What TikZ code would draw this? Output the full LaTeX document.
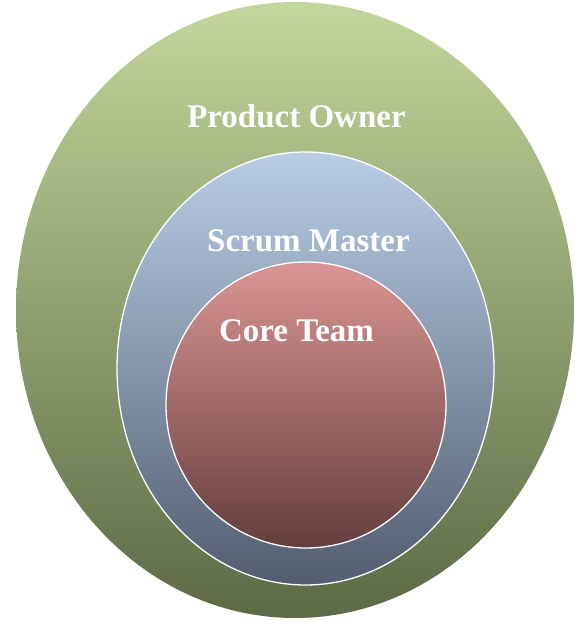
\documentclass[tikz,border=0pt]{standalone}
\usepackage{fontspec}
\setmainfont{Liberation Serif}
\usepackage{xcolor}
\usepackage{tikz}
\usetikzlibrary{positioning}

\definecolor{ownertop}{HTML}{C3D69B}
\definecolor{ownermid}{HTML}{A7BC80}
\definecolor{ownerbot}{HTML}{5C6A45}
\definecolor{mastertop}{HTML}{B9CDE5}
\definecolor{mastermid}{HTML}{A0B4CB}
\definecolor{masterbot}{HTML}{525D6F}
\definecolor{teamtop}{HTML}{DA9593}
\definecolor{teammid}{HTML}{BA7B7A}
\definecolor{teambot}{HTML}{633E3D}

\tikzset{
    role/.style={text=white, anchor=base, inner sep=0pt,
        font=\bfseries\fontsize{33}{40}\selectfont},
    ring/.style={draw=white, line width=1.3pt}
}

\begin{document}
\begin{tikzpicture}[x=1pt, y=1pt]
    \useasboundingbox (0,0) rectangle (574,624);

    % Elipse externa (Product Owner)
    \shade[top color=ownertop, middle color=ownermid, bottom color=ownerbot]
        (295,314) ellipse (279 and 308);

    % Elipse do meio (Scrum Master)
    \shade[ring, top color=mastertop, middle color=mastermid, bottom color=masterbot]
        (305.5,255.5) ellipse (188.5 and 216.5);

    % Círculo interno (Core Team)
    \shade[ring, top color=teamtop, middle color=teammid, bottom color=teambot]
        (306,219) ellipse (140 and 143);

    % Rótulos
    \node[role] (owner) at (296.5,496) {Product Owner};
    \node[role] (master) at (308.5,372) {Scrum Master};
    \node[role] (team) at (296.5,282) {Core Team};
\end{tikzpicture}
\end{document}
